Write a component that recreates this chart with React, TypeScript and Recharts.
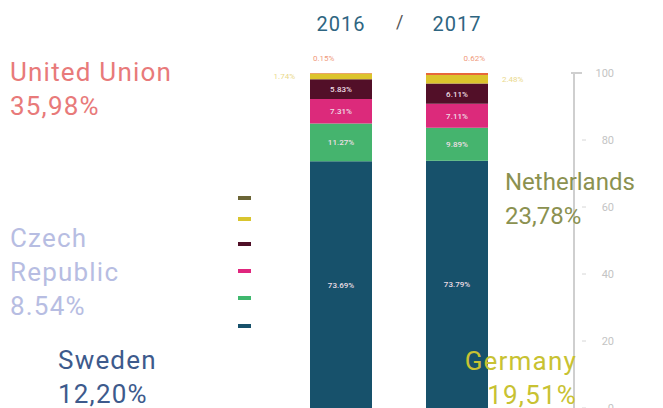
import React from "react";
import { BarChart, Bar, XAxis, YAxis, LabelList } from "recharts";

const years = ["2016", "2017"];
const teal = [73.69, 73.79];
const green = [11.27, 9.89];
const pink = [7.31, 7.11];
const maroon = [5.83, 6.11];
const yellow = [1.74, 2.48];
const orange = [0.15, 0.62];
const yTicks = [0, 20, 40, 60, 80, 100];

const legendColors = ["#6b6536", "#d9c52e", "#4f0f27", "#e0267e", "#3fb86e", "#17516b"];

const countryLabels = [
  { name: "United Union", value: "35,98%", color: "#e87a7a", left: 10, top: 55, size: 26, ls: 1.2, align: "left" },
  { name: "Czech\nRepublic", value: "8.54%", color: "#b7bde2", left: 10, top: 221, size: 26, ls: 1.2, align: "left" },
  { name: "Sweden", value: "12,20%", color: "#3d5a8c", left: 58, top: 343, size: 26, ls: 1.2, align: "left" },
  { name: "Netherlands", value: "23,78%", color: "#8b9150", left: 505, top: 165, size: 24, ls: 0, align: "left" },
  { name: "Germany", value: "19,51%", color: "#c8c232", left: 463, top: 344, size: 26, ls: 1.2, align: "right" },
];

const data = years.map((y, i) => ({
  year: y,
  teal: teal[i],
  green: green[i],
  pink: pink[i],
  maroon: maroon[i],
  yellow: yellow[i],
  orange: orange[i],
}));

const fmt = (v: number) => v.toFixed(2) + "%";

const insideLabel = (props: any) => {
  const { x, y, width, height, value } = props;
  return (
    <text
      x={x + width / 2}
      y={y + height / 2 + 3}
      textAnchor="middle"
      fill="#eedfe5"
      fontSize={8}
      fontWeight={500}
      fontFamily="Roboto"
    >
      {fmt(value)}
    </text>
  );
};

const yellowLabel = (props: any) => {
  const { x, y, width, height, value, index } = props;
  const left = index === 0;
  return (
    <text
      x={left ? x - 15 : x + width + 14}
      y={y + height / 2 + 3}
      textAnchor={left ? "end" : "start"}
      fill="#ead98c"
      fontSize={8}
      fontFamily="Roboto"
    >
      {fmt(value)}
    </text>
  );
};

const orangeLabel = (props: any) => {
  const { x, y, width, value, index } = props;
  const left = index === 0;
  return (
    <text
      x={left ? x + 3 : x + width - 3}
      y={y - 12}
      textAnchor={left ? "start" : "end"}
      fill="#f09a7c"
      fontSize={8}
      fontFamily="Roboto"
    >
      {fmt(value)}
    </text>
  );
};

const YearTick = (props: any) => {
  const { x, payload } = props;
  return (
    <text x={x} y={31} textAnchor="middle" fill="#2e6581" fontSize={20} fontWeight={400} letterSpacing={1} fontFamily="Roboto">
      {payload.value}
    </text>
  );
};

const ValueTick = (props: any) => {
  const { x, y, payload } = props;
  return (
    <g>
      {payload.value === 100 ? (
        <line x1={x - 11} x2={x} y1={y} y2={y} stroke="#cfcfcf" strokeWidth={2} />
      ) : (
        <line x1={x} x2={x + 4} y1={y} y2={y} stroke="#d6d6d6" strokeWidth={1} />
      )}
      <text x={x + 32} y={y + 4} textAnchor="end" fill="#c4c4c4" fontSize={11} fontFamily="Roboto">
        {payload.value}
      </text>
    </g>
  );
};

export default function App() {
  return (
    <div style={{ position: "absolute", left: 0, top: 0, width: 663, height: 408, background: "#fff", overflow: "hidden", fontFamily: "Roboto" }}>
      <BarChart width={663} height={408} data={data} margin={{ top: 23, right: 29, left: 283, bottom: 0 }}>
        <XAxis
          dataKey="year"
          orientation="top"
          height={50}
          axisLine={false}
          tickLine={false}
          tick={<YearTick />}
          padding={{ left: 0, right: 59 }}
        />
        <YAxis
          orientation="right"
          domain={[0, 100]}
          ticks={yTicks}
          width={60}
          axisLine={{ stroke: "#cfcfcf", strokeWidth: 2 }}
          tickLine={false}
          tick={<ValueTick />}
          interval={0}
        />
        <Bar dataKey="teal" stackId="a" fill="#17516b" barSize={62} isAnimationActive={false}>
          <LabelList dataKey="teal" content={insideLabel} />
        </Bar>
        <Bar dataKey="green" stackId="a" fill="#45b46e" barSize={62} isAnimationActive={false}>
          <LabelList dataKey="green" content={insideLabel} />
        </Bar>
        <Bar dataKey="pink" stackId="a" fill="#dc2a7b" barSize={62} isAnimationActive={false}>
          <LabelList dataKey="pink" content={insideLabel} />
        </Bar>
        <Bar dataKey="maroon" stackId="a" fill="#520f28" barSize={62} isAnimationActive={false}>
          <LabelList dataKey="maroon" content={insideLabel} />
        </Bar>
        <Bar dataKey="yellow" stackId="a" fill="#dcc42c" barSize={62} isAnimationActive={false}>
          <LabelList dataKey="yellow" content={yellowLabel} />
        </Bar>
        <Bar dataKey="orange" stackId="a" fill="#e8683a" barSize={62} isAnimationActive={false}>
          <LabelList dataKey="orange" content={orangeLabel} />
        </Bar>
      </BarChart>

      <div style={{ position: "absolute", left: 396, top: 11, fontSize: 18, color: "#555" }}>/</div>

      {legendColors.map((c, i) => (
        <div
          key={c}
          style={{ position: "absolute", left: 238, top: [196, 217, 242, 269, 296, 324][i], width: 13, height: 4, background: c }}
        />
      ))}

      {countryLabels.map((l) => (
        <div
          key={l.name}
          style={{
            position: "absolute",
            left: l.align === "right" ? undefined : l.left,
            right: l.align === "right" ? 663 - 577 : undefined,
            top: l.top,
            color: l.color,
            fontSize: l.size,
            letterSpacing: l.ls,
            lineHeight: "34px",
            whiteSpace: "pre",
            textAlign: l.align as any,
          }}
        >
          {l.name + "\n" + l.value}
        </div>
      ))}
    </div>
  );
}
